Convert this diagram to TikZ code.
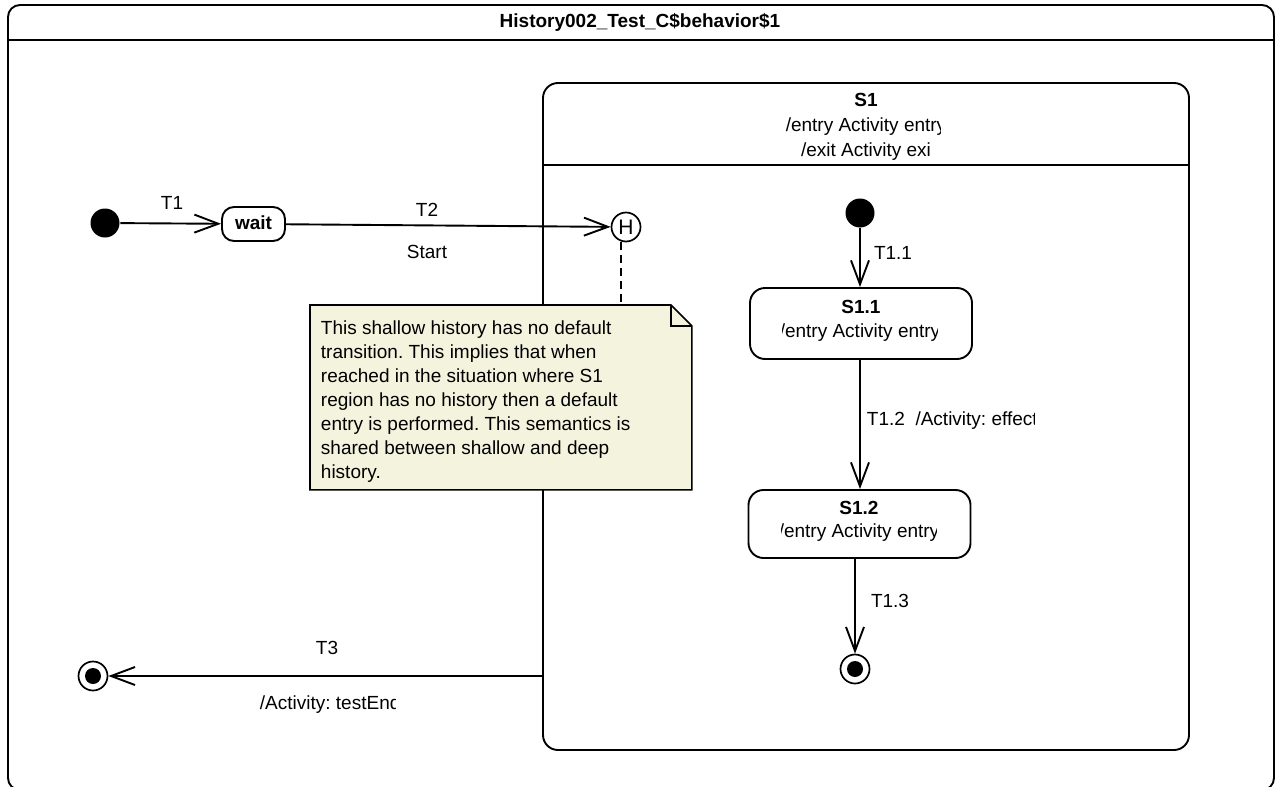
\documentclass[tikz,border=0pt]{standalone}
\usepackage{fontspec}
\setmainfont{Liberation Sans}
\usetikzlibrary{arrows.meta}
\definecolor{notefill}{RGB}{244,244,222}
\frenchspacing
\begin{document}
\begin{tikzpicture}[x=1pt,y=-1pt,
  line width=1.9pt,
  every node/.style={font=\fontsize{19}{24}\selectfont\frenchspacing, inner sep=0pt},
  arr/.style={-{Straight Barb[length=24pt,width=18pt]}},
  initstate/.style={circle, fill=black, minimum size=29pt},
  finalstate/.style={circle, draw, line width=1.7pt, minimum size=29pt,
    path picture={\fill (path picture bounding box.center) circle (8pt);}},
  statebox/.style={draw, rounded corners=15pt},
  boldtxt/.style={font=\fontsize{19}{24}\selectfont\bfseries},
  notebox/.style={fill=notefill, line width=1.6pt}
]
\useasboundingbox (0,0) rectangle (1280,787);
% outer frame
\draw[rounded corners=12pt] (8,5) rectangle (1274,790);
\coordinate (tl) at (8,40);
\coordinate (tr) at (1274,40);
\draw (tl) -- (tr);
\node[boldtxt] (title) at (640,22) {History002\_Test\_C\$behavior\$1};

% composite S1
\node[statebox, minimum width=646pt, minimum height=667pt] (S1) at (866,416.5) {};
\coordinate (sepy) at (0,165);
\draw (S1.west |- sepy) -- (S1.east |- sepy);
\node[boldtxt] (S1name) at (866,100) {S1};
\begin{scope}
  \clip (600,110) rectangle (940,140);
  \node (S1entry) at (866,127) {/entry Activity entry};
\end{scope}
\node (S1exit) at (866,152) {/exit Activity exi};

% left part
\node[initstate] (init) at (105,223) {};
\node[statebox, rounded corners=12pt, minimum width=63pt, minimum height=34pt] (wait) at (253.5,224) {};
\node[boldtxt] (waittxt) at (253.5,223) {wait};
\node[circle, draw, line width=1.7pt, minimum size=29pt, font=\fontsize{21}{24}\selectfont] (H) at (626,227) {H};
\draw[arr] (init) -- (wait);
\node (T1) at (172,203) {T1};
\draw[arr] (wait) -- (H);
\node (T2) at (427,210) {T2};
\node (Start) at (427,252) {Start};

% note
\node[minimum width=380pt, minimum height=183pt, anchor=north west] (note) at (310,305) {};
\draw[dashed, dash pattern=on 8pt off 5pt] ([xshift=-5pt]H.south) -- ([xshift=-5pt]H.south |- note.north);
\draw[notebox] (note.north west) -- ([xshift=-21pt]note.north east) -- ([yshift=-21pt]note.north east)
  -- (note.south east) -- (note.south west) -- cycle;
\draw[line width=1.6pt] ([xshift=-21pt]note.north east) -- ([xshift=-21pt,yshift=-21pt]note.north east)
  -- ([yshift=-21pt]note.north east);
\node[anchor=north west, align=left] (notetxt) at (320,320) {This shallow history has no default\\
transition. This implies that when\\
reached in the situation where S1\\
region has no history then a default\\
entry is performed. This semantics is\\
shared between shallow and deep\\
history.};

% final of outer
\node[finalstate] (fin) at (93,676) {};
\draw[arr] (S1.west |- fin) -- (fin);
\node (T3) at (327,648) {T3};
\begin{scope}
  \clip (250,690) rectangle (395,720);
  \node[anchor=west] (T3eff) at (259,705) {/Activity: testEnd};
\end{scope}

% inner region
\node[initstate] (init2) at (860,213) {};
\node[statebox, minimum width=222pt, minimum height=71pt] (S11) at (861,323.5) {};
\node[boldtxt] (S11name) at (861,307) {S1.1};
\begin{scope}
  \clip (782,320) rectangle (937,348);
  \node (S11entry) at (860,333) {/entry Activity entry};
\end{scope}
\node[statebox, minimum width=222pt, minimum height=68pt] (S12) at (859.5,524) {};
\node[boldtxt] (S12name) at (859,508) {S1.2};
\begin{scope}
  \clip (781,520) rectangle (936,548);
  \node (S12entry) at (859,533) {/entry Activity entry};
\end{scope}
\node[finalstate] (fin2) at (855,669) {};

\draw[arr] (init2) -- (init2 |- S11.north);
\node (T11) at (893,253) {T1.1};
\draw[arr] (S11.south -| init2) -- (S12.north -| init2);
\begin{scope}
  \clip (860,405) rectangle (1034,440);
  \node[anchor=west] (T12) at (866,421) {T1.2\ \ /Activity: effect};
\end{scope}
\draw[arr] (S12.south -| fin2) -- (fin2);
\node (T13) at (890,601) {T1.3};
\end{tikzpicture}
\end{document}
